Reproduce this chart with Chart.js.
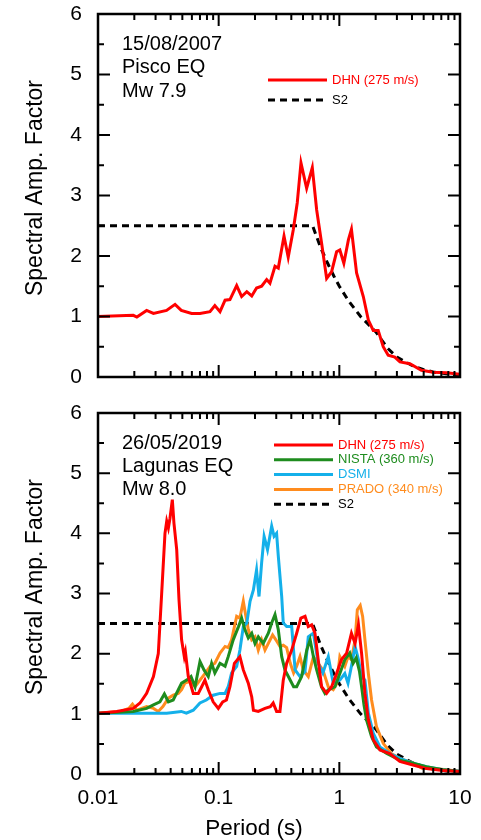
<!DOCTYPE html>
<html>
<head>
<meta charset="utf-8">
<script src="https://cdn.jsdelivr.net/npm/chart.js@4.4.1/dist/chart.umd.min.js"></script>
<style>
body { margin: 0; background: #fff; }
canvas { position: absolute; left: 0; }
#top { top: 0; }
#bot { top: 400px; }
</style>
</head>
<body>
<canvas id="top" width="481" height="400"></canvas>
<canvas id="bot" width="481" height="440"></canvas>
<script>
// --- data (periods in s, spectral amplification factor) ---
const pisco_dhnT = [0.01, 0.0196, 0.021, 0.0253, 0.0288, 0.037, 0.0435, 0.049, 0.0597, 0.070, 0.0847, 0.093, 0.1026, 0.113, 0.124, 0.141, 0.155, 0.171, 0.188, 0.206, 0.227, 0.25, 0.266, 0.293, 0.312, 0.348, 0.377, 0.415, 0.448, 0.481, 0.536, 0.597, 0.649, 0.713, 0.785, 0.863, 0.949, 1.01, 1.09, 1.19, 1.26, 1.39, 1.58, 1.74, 1.91, 2.1, 2.31, 2.54, 2.88, 3.18, 3.84, 4.79, 6.0, 7.74, 10];
const pisco_dhnSA = [1.0, 1.02, 0.99, 1.10, 1.05, 1.10, 1.20, 1.10, 1.05, 1.05, 1.08, 1.18, 1.08, 1.27, 1.28, 1.51, 1.33, 1.41, 1.34, 1.47, 1.50, 1.61, 1.55, 1.83, 1.80, 2.33, 1.98, 2.43, 2.88, 3.54, 3.12, 3.46, 2.76, 2.21, 1.63, 1.74, 2.07, 2.10, 1.88, 2.27, 2.44, 1.72, 1.33, 0.94, 0.77, 0.77, 0.50, 0.36, 0.33, 0.25, 0.22, 0.11, 0.08, 0.07, 0.045];

const lag_dhnT = [0.01, 0.0143, 0.0196, 0.0223, 0.0253, 0.0288, 0.0316, 0.0337, 0.0359, 0.0371, 0.0383, 0.0395, 0.0413, 0.0426, 0.0449, 0.0469, 0.0493, 0.0519, 0.053, 0.056, 0.0616, 0.0678, 0.0723, 0.0769, 0.082, 0.090, 0.0993, 0.108, 0.116, 0.124, 0.135, 0.150, 0.16, 0.176, 0.188, 0.194, 0.213, 0.242, 0.268, 0.283, 0.302, 0.322, 0.343, 0.366, 0.403, 0.443, 0.48, 0.52, 0.553, 0.59, 0.628, 0.668, 0.713, 0.785, 0.863, 0.949, 1.04, 1.15, 1.26, 1.35, 1.44, 1.53, 1.63, 1.74, 1.91, 2.17, 2.62, 3.17, 4.08, 5.26, 7.2, 10];
const lag_dhnSA = [1.01, 1.04, 1.09, 1.18, 1.34, 1.62, 2.0, 3.0, 4.0, 4.2, 4.09, 4.25, 4.56, 4.17, 3.73, 2.9, 2.23, 1.95, 2.03, 1.62, 1.34, 1.34, 1.45, 1.56, 1.40, 1.20, 1.09, 1.20, 1.23, 1.45, 1.84, 1.95, 1.73, 1.51, 1.28, 1.06, 1.04, 1.09, 1.12, 1.18, 1.04, 1.04, 1.56, 1.84, 2.06, 2.34, 2.59, 2.62, 2.45, 2.48, 2.34, 1.90, 1.45, 1.34, 1.45, 1.67, 1.90, 2.01, 2.34, 2.17, 2.48, 2.0, 1.34, 0.9, 0.57, 0.40, 0.34, 0.21, 0.15, 0.09, 0.06, 0.04];

const lag_nistaT = [0.01, 0.0196, 0.0253, 0.0288, 0.0326, 0.0355, 0.0383, 0.042, 0.0463, 0.0493, 0.0543, 0.059, 0.0637, 0.070, 0.0756, 0.082, 0.0874, 0.093, 0.1026, 0.113, 0.12, 0.132, 0.146, 0.155, 0.165, 0.176, 0.188, 0.2, 0.213, 0.234, 0.258, 0.275, 0.293, 0.312, 0.333, 0.354, 0.378, 0.418, 0.443, 0.487, 0.537, 0.573, 0.61, 0.649, 0.71, 0.76, 0.81, 0.92, 1.01, 1.11, 1.22, 1.3, 1.38, 1.47, 1.53, 1.6, 1.68, 1.85, 2.03, 2.47, 3.17, 4.08, 5.26, 7.2, 10];
const lag_nistaSA = [1.01, 1.04, 1.09, 1.15, 1.20, 1.33, 1.20, 1.23, 1.40, 1.51, 1.56, 1.62, 1.45, 1.87, 1.73, 1.62, 1.84, 1.68, 1.84, 1.79, 1.95, 2.23, 2.45, 2.59, 2.40, 2.26, 2.34, 2.17, 2.28, 2.17, 2.34, 2.51, 2.65, 2.40, 1.95, 1.73, 1.62, 1.45, 1.45, 1.62, 2.06, 2.23, 1.95, 1.73, 1.45, 1.34, 1.40, 1.45, 1.67, 1.90, 2.01, 1.84, 1.93, 1.70, 1.45, 1.15, 0.9, 0.62, 0.45, 0.34, 0.23, 0.18, 0.12, 0.07, 0.04];

const lag_dsmiT = [0.01, 0.0196, 0.0371, 0.049, 0.054, 0.0616, 0.070, 0.079, 0.090, 0.1026, 0.113, 0.12, 0.128, 0.141, 0.150, 0.16, 0.171, 0.182, 0.194, 0.206, 0.216, 0.227, 0.238, 0.254, 0.275, 0.288, 0.302, 0.312, 0.333, 0.343, 0.366, 0.403, 0.43, 0.472, 0.519, 0.553, 0.61, 0.668, 0.73, 0.81, 0.89, 1.01, 1.11, 1.18, 1.26, 1.35, 1.44, 1.53, 1.63, 1.74, 1.91, 2.17, 2.62, 3.17, 4.08, 5.26, 7.2, 10];
const lag_dsmiSA = [1.01, 1.01, 1.01, 1.04, 1.01, 1.06, 1.18, 1.23, 1.31, 1.34, 1.34, 1.45, 1.68, 1.79, 2.06, 2.45, 2.51, 2.87, 3.06, 3.39, 2.95, 3.51, 3.95, 3.73, 4.12, 3.95, 4.0, 3.62, 2.95, 2.51, 2.45, 2.45, 1.73, 1.62, 1.70, 2.28, 2.34, 1.84, 1.68, 1.95, 1.51, 1.56, 1.67, 1.51, 1.79, 2.12, 1.90, 1.62, 1.56, 1.01, 0.68, 0.45, 0.34, 0.26, 0.18, 0.12, 0.07, 0.045];

const lag_pradoT = [0.01, 0.0155, 0.018, 0.0193, 0.021, 0.0253, 0.0288, 0.0316, 0.0345, 0.0383, 0.042, 0.0463, 0.0493, 0.0525, 0.058, 0.0637, 0.070, 0.0769, 0.085, 0.093, 0.1026, 0.113, 0.12, 0.128, 0.141, 0.150, 0.16, 0.168, 0.176, 0.188, 0.2, 0.213, 0.227, 0.242, 0.258, 0.28, 0.298, 0.322, 0.343, 0.366, 0.392, 0.418, 0.443, 0.472, 0.502, 0.553, 0.61, 0.668, 0.73, 0.81, 0.89, 0.95, 1.01, 1.11, 1.18, 1.26, 1.35, 1.41, 1.49, 1.56, 1.63, 1.74, 1.85, 2.03, 2.31, 2.69, 3.17, 4.08, 4.9, 6.0, 7.74, 10];
const lag_pradoSA = [1.01, 1.04, 1.09, 1.16, 1.06, 1.12, 1.09, 1.04, 1.12, 1.26, 1.31, 1.34, 1.40, 1.51, 1.54, 1.45, 1.56, 1.67, 1.79, 1.84, 2.01, 2.12, 2.10, 2.23, 2.62, 2.59, 2.87, 2.62, 2.40, 2.23, 2.28, 2.06, 2.23, 2.06, 2.17, 2.31, 2.23, 2.12, 2.14, 2.10, 1.84, 1.68, 1.79, 1.95, 1.73, 1.62, 1.95, 1.84, 1.73, 1.45, 1.40, 1.50, 1.95, 1.79, 1.95, 1.90, 2.23, 2.73, 2.80, 2.62, 2.23, 1.67, 1.23, 0.79, 0.51, 0.34, 0.26, 0.18, 0.09, 0.09, 0.07, 0.04];

const s2T = [0.01, 0.6, 0.7, 0.8, 0.9, 1.0, 1.2, 1.5, 2.0, 2.5, 3.0, 4.0, 5.0, 6.0, 8.0, 10];
const s2SA = [2.5, 2.5, 2.14, 1.88, 1.67, 1.5, 1.25, 1.0, 0.75, 0.48, 0.33, 0.19, 0.12, 0.083, 0.047, 0.03];

const yTicks = [0, 1, 2, 3, 4, 5, 6];
const xDecades = [0.01, 0.1, 1, 10];

const FONT = '"Liberation Sans", Arial, Helvetica, sans-serif';

function pts(t, v) {
    return t.map((x, i) => ({x: x, y: v[i]}));
}

function series(label, t, v, color, dashed) {
    return {
        label: label,
        data: pts(t, v),
        borderColor: color,
        backgroundColor: color,
        borderWidth: 3,
        borderDash: dashed ? [7, 5] : [],
        pointRadius: 0,
        tension: 0,
        fill: false
    };
}

// box, inward ticks, notes, legend, axis titles
function framePlugin(info) {
    return {
        id: 'frame',
        afterDraw(chart) {
            const ctx = chart.ctx;
            const a = chart.chartArea;
            const x = chart.scales.x, y = chart.scales.y;
            ctx.save();
            ctx.strokeStyle = '#000';
            ctx.lineWidth = 2;
            ctx.beginPath();
            for (let v = 0; v <= 6; v += 0.5) {
                const py = y.getPixelForValue(v);
                const len = Number.isInteger(v) ? 12 : 6;
                ctx.moveTo(a.left, py); ctx.lineTo(a.left + len, py);
                ctx.moveTo(a.right, py); ctx.lineTo(a.right - len, py);
            }
            for (const d of [0.01, 0.1, 1]) {
                for (let m = 1; m < 10; m++) {
                    const px = x.getPixelForValue(d * m);
                    const len = m === 1 ? 12 : 6;
                    ctx.moveTo(px, a.bottom); ctx.lineTo(px, a.bottom - len);
                    ctx.moveTo(px, a.top); ctx.lineTo(px, a.top + len);
                }
            }
            ctx.stroke();
            ctx.lineWidth = 2.5;
            ctx.strokeRect(a.left, a.top, a.right - a.left, a.bottom - a.top);

            // notes
            ctx.fillStyle = '#000';
            ctx.font = '20px ' + FONT;
            ctx.textAlign = 'left';
            ctx.textBaseline = 'alphabetic';
            info.notes.forEach((s, i) => ctx.fillText(s, 122, info.noteY + i * 23.3));

            // legend
            ctx.font = '13px ' + FONT;
            ctx.textBaseline = 'middle';
            info.legend.forEach((idx, i) => {
                const ds = chart.data.datasets[idx];
                const ly = info.legY + i * info.legStep;
                ctx.strokeStyle = ds.borderColor;
                ctx.lineWidth = 3;
                ctx.setLineDash(ds.borderDash);
                ctx.beginPath();
                ctx.moveTo(info.legX, ly); ctx.lineTo(info.legX + 59, ly);
                ctx.stroke();
                ctx.setLineDash([]);
                ctx.fillStyle = ds.borderDash.length ? '#000' : ds.borderColor;
                ctx.fillText(ds.label, info.legX + 64, ly);
            });

            // y title
            ctx.fillStyle = '#000';
            ctx.font = '23px ' + FONT;
            ctx.save();
            ctx.translate(42, info.yTitleY);
            ctx.rotate(-Math.PI / 2);
            ctx.textAlign = 'center';
            ctx.textBaseline = 'alphabetic';
            ctx.fillText('Spectral Amp. Factor', 0, 0);
            ctx.restore();

            if (info.xTitle) {
                ctx.font = '22.5px ' + FONT;
                ctx.textAlign = 'center';
                ctx.textBaseline = 'alphabetic';
                ctx.fillText('Period (s)', 254, 435);
            }
            ctx.restore();
        }
    };
}

function makeChart(id, datasets, info) {
    const config = {
        type: 'line',
        data: {datasets: datasets},
        options: {
            responsive: false,
            animation: false,
            parsing: false,
            layout: {padding: {left: 0, right: 21, top: info.padTop, bottom: 0}},
            plugins: {legend: {display: false}, tooltip: {enabled: false}},
            scales: {
                x: {
                    type: 'logarithmic',
                    min: 0.01,
                    max: 10,
                    grid: {display: false, drawTicks: false},
                    border: {display: false},
                    afterFit: (s) => { s.height = info.xHeight; s.paddingLeft = 0; s.paddingRight = 0; },
                    ticks: {
                        display: info.xLabels,
                        autoSkip: false,
                        maxRotation: 0,
                        padding: 12,
                        color: '#000',
                        font: {family: FONT, size: 21},
                        callback: (v) => {
                            const hit = xDecades.find(d => Math.abs(d - v) < d * 1e-6);
                            return hit === undefined ? '' : String(hit);
                        }
                    }
                },
                y: {
                    min: 0,
                    max: 6,
                    grid: {display: false, drawTicks: false},
                    border: {display: false},
                    afterFit: (s) => { s.width = 98; s.paddingTop = 0; s.paddingBottom = 0; },
                    afterBuildTicks: (s) => { s.ticks = yTicks.map(v => ({value: v})); },
                    ticks: {
                        padding: 16,
                        color: '#000',
                        font: {family: FONT, size: 21}
                    }
                }
            }
        },
        plugins: [framePlugin(info)]
    };
    return new Chart(document.getElementById(id), config);
}

const topChart = makeChart('top', [
    series('DHN (275 m/s)', pisco_dhnT, pisco_dhnSA, '#ff0000', false),
    series('S2', s2T, s2SA, '#000000', true)
], {
    padTop: 14, xHeight: 23, xLabels: false, xTitle: false,
    notes: ['15/08/2007', 'Pisco EQ', 'Mw 7.9'], noteY: 50,
    legend: [0, 1], legX: 268, legY: 80, legStep: 20,
    yTitleY: 188
});

const botChart = makeChart('bot', [
    series('DHN (275 m/s)', lag_dhnT, lag_dhnSA, '#ff0000', false),
    series('NISTA (360 m/s)', lag_nistaT, lag_nistaSA, '#1e8c1e', false),
    series('DSMI', lag_dsmiT, lag_dsmiSA, '#14b0ea', false),
    series('PRADO (340 m/s)', lag_pradoT, lag_pradoSA, '#ff8c1e', false),
    series('S2', s2T, s2SA, '#000000', true)
], {
    padTop: 13, xHeight: 66, xLabels: true, xTitle: true,
    notes: ['26/05/2019', 'Lagunas EQ', 'Mw 8.0'], noteY: 48.5,
    legend: [0, 1, 2, 3, 4], legX: 274, legY: 45, legStep: 14.8,
    yTitleY: 187
});
</script>
</body>
</html>
